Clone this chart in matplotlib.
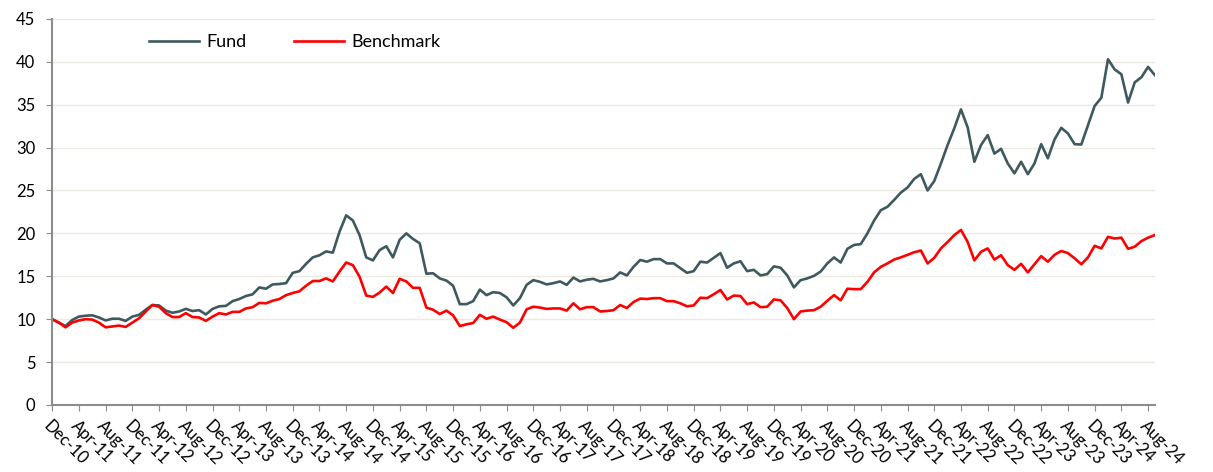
import matplotlib

matplotlib.use("Agg")
import matplotlib.pyplot as plt
import pandas as pd

# month-end values, Dec-10 .. Sep-24
FUND = [
    10.0, 9.6, 9.2, 9.9, 10.3, 10.4, 10.45, 10.2, 9.85, 10.05, 10.05, 9.8,
    10.3, 10.5, 11.1, 11.65, 11.6, 11.0, 10.75, 10.9, 11.2, 10.95, 11.05, 10.55,
    11.2, 11.5, 11.55, 12.1, 12.35, 12.7, 12.9, 13.7, 13.55, 14.05, 14.1, 14.2,
    15.4, 15.6, 16.45, 17.2, 17.45, 17.9, 17.75, 20.2, 22.1, 21.5, 19.8, 17.2,
    16.85, 18.05, 18.5, 17.2, 19.25, 20.0, 19.35, 18.85, 15.3, 15.35, 14.75, 14.5,
    13.9, 11.75, 11.75, 12.1, 13.45, 12.8, 13.15, 13.05, 12.55, 11.6, 12.45, 14.0,
    14.55, 14.35, 14.05, 14.2, 14.4, 14.0, 14.85, 14.4, 14.6, 14.7, 14.4, 14.55,
    14.75, 15.45, 15.1, 16.1, 16.9, 16.7, 17.0, 17.0, 16.5, 16.5, 15.95, 15.4,
    15.6, 16.7, 16.6, 17.15, 17.7, 16.0, 16.5, 16.75, 15.6, 15.75, 15.1, 15.25,
    16.15, 16.0, 15.1, 13.7, 14.55, 14.75, 15.05, 15.55, 16.5, 17.2, 16.6, 18.2,
    18.65, 18.75, 20.0, 21.5, 22.7, 23.1, 23.9, 24.75, 25.35, 26.35, 26.9, 25.0,
    26.1, 28.15, 30.3, 32.25, 34.45, 32.35, 28.35, 30.3, 31.45, 29.3, 29.85, 28.15,
    27.0, 28.35, 26.9, 28.15, 30.4, 28.75, 30.95, 32.3, 31.65, 30.4, 30.35, 32.6,
    34.85, 35.8, 40.3, 39.1, 38.55, 35.25, 37.6, 38.2, 39.4, 38.45,
]

BENCHMARK = [
    10.0, 9.6, 9.05, 9.6, 9.85, 10.0, 9.95, 9.6, 9.05, 9.15, 9.25, 9.1,
    9.6, 10.1, 10.9, 11.65, 11.45, 10.7, 10.25, 10.25, 10.7, 10.25, 10.2, 9.8,
    10.3, 10.7, 10.55, 10.85, 10.85, 11.25, 11.4, 11.9, 11.85, 12.15, 12.35, 12.8,
    13.05, 13.25, 13.9, 14.45, 14.45, 14.75, 14.4, 15.55, 16.6, 16.3, 14.95, 12.75,
    12.6, 13.1, 13.8, 13.05, 14.7, 14.4, 13.65, 13.65, 11.35, 11.1, 10.6, 11.0,
    10.45, 9.2, 9.4, 9.55, 10.5, 10.05, 10.3, 9.95, 9.65, 9.0, 9.6, 11.15,
    11.45, 11.35, 11.2, 11.25, 11.25, 11.0, 11.85, 11.15, 11.4, 11.4, 10.9, 10.95,
    11.05, 11.65, 11.3, 12.0, 12.4, 12.35, 12.45, 12.45, 12.1, 12.1, 11.85, 11.5,
    11.6, 12.5, 12.45, 12.9, 13.4, 12.3, 12.75, 12.7, 11.75, 11.95, 11.4, 11.45,
    12.3, 12.2, 11.3, 10.0, 10.9, 11.0, 11.05, 11.45, 12.15, 12.8, 12.2, 13.55,
    13.5, 13.5, 14.35, 15.45, 16.1, 16.5, 16.95, 17.2, 17.5, 17.8, 18.0, 16.5,
    17.15, 18.25, 19.0, 19.8, 20.4, 19.0, 16.85, 17.85, 18.25, 16.95, 17.45, 16.3,
    15.75, 16.45, 15.45, 16.4, 17.35, 16.7, 17.5, 17.95, 17.7, 17.1, 16.4, 17.2,
    18.55, 18.25, 19.6, 19.4, 19.5, 18.2, 18.45, 19.1, 19.5, 19.8,
]

START_MONTH = "2010-12-31"
TICK_STEP = 4
Y_TICKS = list(range(0, 46, 5))

FUND_COLOR = "#3e5a5e"
BENCH_COLOR = "#ff0000"
GRID_COLOR = "#ebe9e0"
AXIS_COLOR = "#8c8c8c"

plt.rcParams["font.family"] = ["Lato", "DejaVu Sans"]

months = pd.date_range(START_MONTH, periods=len(FUND), freq="ME")
labels = [m.strftime("%b-%y") for m in months]
x = list(range(len(FUND)))

fig = plt.figure(figsize=(12.13, 4.72), dpi=100)
ax = fig.add_axes([0.043, 0.142, 0.909, 0.818])

ax.plot(x, FUND, color=FUND_COLOR, linewidth=1.9, label="Fund")
ax.plot(x, BENCHMARK, color=BENCH_COLOR, linewidth=1.9, label="Benchmark")

ax.set_xlim(0, len(FUND) - 1)
ax.set_ylim(0, 45)
ax.set_yticks(Y_TICKS)
ax.yaxis.grid(True, color=GRID_COLOR, linewidth=1.0)
ax.set_axisbelow(True)

tick_pos = x[::TICK_STEP]
ax.set_xticks(tick_pos)
ax.set_xticklabels(
    [labels[i] for i in tick_pos],
    rotation=-45,
    ha="left",
    va="top",
    rotation_mode="anchor",
    fontsize=12,
)
ax.tick_params(axis="y", labelsize=12, length=4, color=AXIS_COLOR, pad=8)
ax.tick_params(axis="x", length=4, color=AXIS_COLOR, pad=5)

for side in ("top", "right"):
    ax.spines[side].set_visible(False)
for side in ("left", "bottom"):
    ax.spines[side].set_color(AXIS_COLOR)
    ax.spines[side].set_linewidth(1.5)

ax.legend(
    loc="center left",
    bbox_to_anchor=(0.073, 0.94),
    ncol=2,
    frameon=False,
    fontsize=13,
    handlelength=2.8,
    handletextpad=0.4,
    columnspacing=2.6,
)

fig.savefig("out.png", dpi=100)
